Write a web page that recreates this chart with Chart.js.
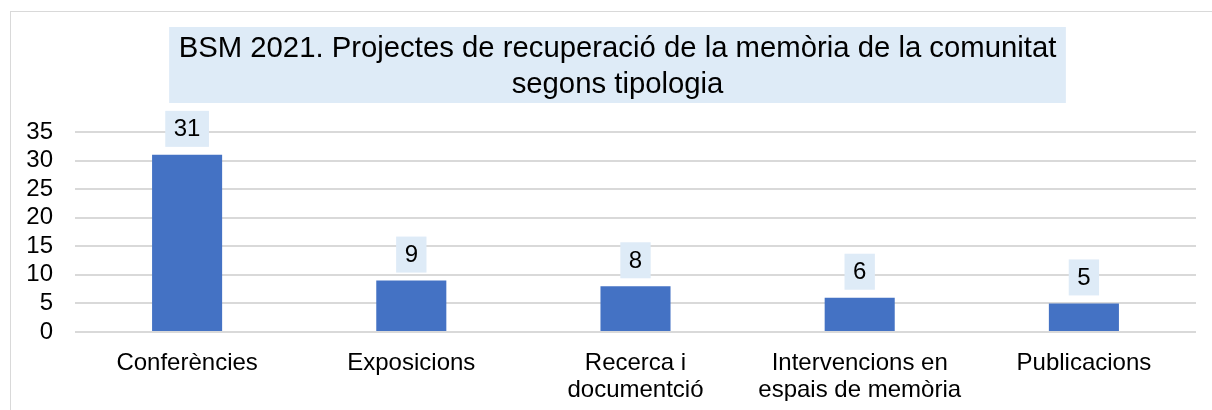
<!DOCTYPE html>
<html>
<head>
<meta charset="utf-8">
<script src="https://cdn.jsdelivr.net/npm/chart.js@4/dist/chart.umd.min.js"></script>
<style>
  html, body { margin: 0; padding: 0; background: #fff; }
  #wrap { position: relative; width: 1212px; height: 410px; }
  #frame { position: absolute; left: 10px; top: 11px; right: -2px; bottom: -2px; border: 1px solid #d9d9d9; }
  canvas { position: absolute; left: 0; top: 0; }
</style>
</head>
<body>
<div id="wrap">
  <div id="frame"></div>
  <canvas id="bar_chart" width="1212" height="410"></canvas>
</div>
<script>
var titleLines = ['BSM 2021. Projectes de recuperació de la memòria de la comunitat', 'segons tipologia'];
var categories = ['Conferències', 'Exposicions', ['Recerca i', 'documentció'], ['Intervencions en', 'espais de memòria'], 'Publicacions'];
var projects = [31, 9, 8, 6, 5];
var yTicks = [0, 5, 10, 15, 20, 25, 30, 35];

var FONT = '"Liberation Sans", Arial, sans-serif';
var LABEL_BG = '#deebf7';

// title drawn with its light blue box
var titleBox = {
    id: 'titleBox',
    beforeDraw: function (chart) {
        var ctx = chart.ctx;
        ctx.save();
        ctx.font = '29.3px ' + FONT;
        var w = 0;
        titleLines.forEach(function (l) { w = Math.max(w, ctx.measureText(l).width); });
        var cx = 617.5;
        ctx.fillStyle = LABEL_BG;
        ctx.fillRect(cx - w / 2 - 9.5, 27, w + 19, 76);
        ctx.fillStyle = '#000';
        ctx.textAlign = 'center';
        ctx.textBaseline = 'middle';
        titleLines.forEach(function (l, i) {
            ctx.fillText(l, cx, 49 + i * 36);
        });
        ctx.restore();
    }
};

// value labels above the bars
var valueLabels = {
    id: 'valueLabels',
    afterDatasetsDraw: function (chart) {
        var ctx = chart.ctx;
        var meta = chart.getDatasetMeta(0);
        ctx.save();
        ctx.font = '24px ' + FONT;
        ctx.textAlign = 'center';
        ctx.textBaseline = 'middle';
        meta.data.forEach(function (bar, i) {
            var txt = String(projects[i]);
            var w = ctx.measureText(txt).width + 17;
            var h = 36;
            var bottom = bar.y - 8;
            ctx.fillStyle = LABEL_BG;
            ctx.fillRect(bar.x - w / 2, bottom - h, w, h);
            ctx.fillStyle = '#000';
            ctx.fillText(txt, bar.x, bottom - h / 2 + 1);
        });
        ctx.restore();
    }
};

new Chart(document.getElementById('bar_chart').getContext('2d'), {
    type: 'bar',
    data: {
        labels: categories,
        datasets: [{
            data: projects,
            backgroundColor: '#4472c4',
            borderWidth: 0,
            barPercentage: 0.3125,
            categoryPercentage: 1
        }]
    },
    options: {
        responsive: false,
        animation: false,
        layout: { padding: { left: 27, right: 16, top: 132, bottom: 9 } },
        plugins: {
            legend: { display: false },
            title: { display: false },
            tooltip: { enabled: false }
        },
        scales: {
            x: {
                afterFit: function (axis) { axis.height = 69; },
                grid: { display: false, drawTicks: false },
                border: { display: false },
                ticks: {
                    color: '#000',
                    font: { family: FONT, size: 24, lineHeight: 1.12 },
                    padding: 18,
                    maxRotation: 0,
                    autoSkip: false
                }
            },
            y: {
                min: 0,
                max: 35,
                afterBuildTicks: function (axis) {
                    axis.ticks = yTicks.map(function (v) { return { value: v }; });
                },
                afterFit: function (axis) { axis.width = 48; },
                grid: { color: '#d9d9d9', lineWidth: 2, drawTicks: false },
                border: { display: false },
                ticks: {
                    color: '#000',
                    font: { family: FONT, size: 24 },
                    padding: 22,
                    autoSkip: false
                }
            }
        }
    },
    plugins: [titleBox, valueLabels]
});
</script>
</body>
</html>
